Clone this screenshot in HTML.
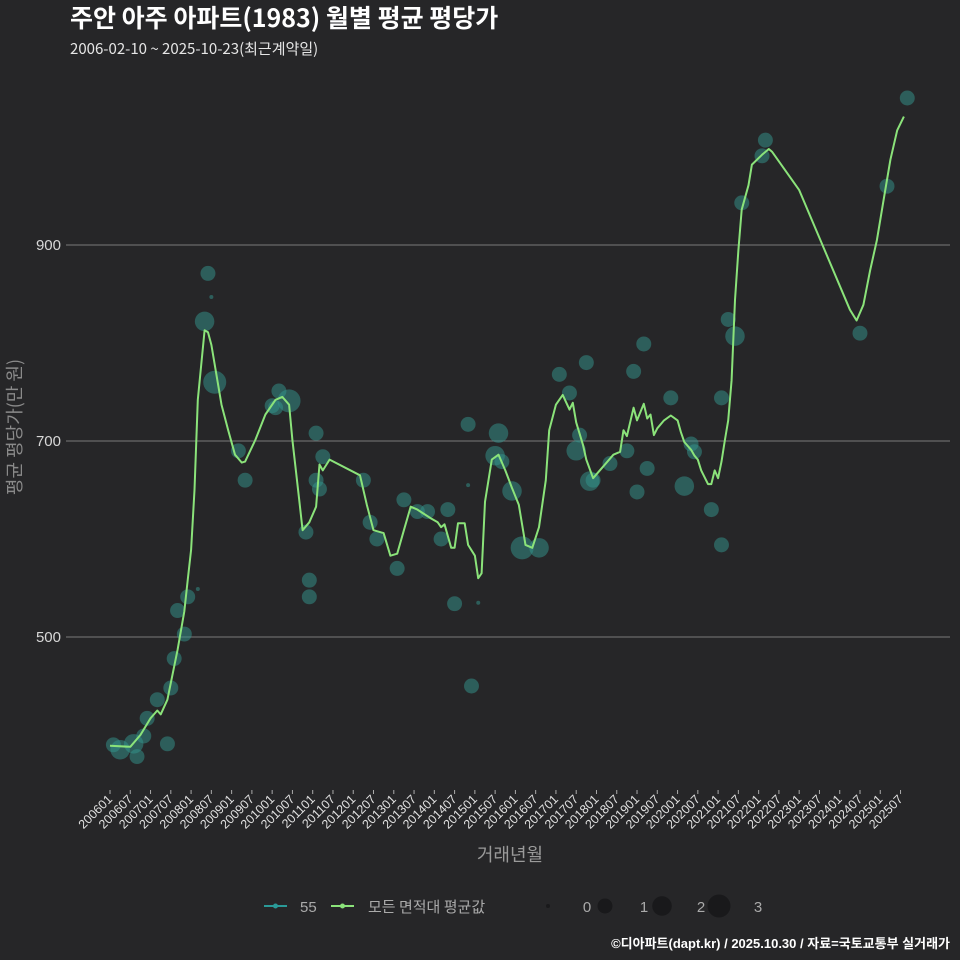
<!DOCTYPE html>
<html><head><meta charset="utf-8">
<style>
html,body{margin:0;padding:0;background:#262628;}
svg{display:block;font-family:"Liberation Sans","Noto Sans CJK KR",sans-serif;}
</style></head>
<body>
<svg id="chart" width="960" height="960" viewBox="0 0 960 960" xmlns="http://www.w3.org/2000/svg">
<rect width="960" height="960" fill="#262628"/>
<text x="70" y="27" fill="#ffffff" font-size="25" font-weight="bold" font-family="Noto Sans CJK KR, sans-serif">주안 아주 아파트(1983) 월별 평균 평당가</text>
<text x="70" y="54" fill="#e6e6e6" font-size="15" font-family="Noto Sans CJK KR, sans-serif">2006-02-10 ~ 2025-10-23(최근계약일)</text>
<g id="grid"></g>
<g id="yticks"></g>
<g id="xticks"></g>
<g id="bubbles"></g>
<g id="line"></g>
<text x="16" y="427" transform="rotate(-90 16 427)" text-anchor="middle" dominant-baseline="middle" fill="#8a8a8a" font-size="18" font-family="Noto Sans CJK KR, sans-serif">평균 평당가(만 원)</text>
<text x="510" y="861" text-anchor="middle" fill="#9a9a9a" font-size="18" font-family="Noto Sans CJK KR, sans-serif">거래년월</text>
<g>
  <g>
    <line x1="264" y1="906" x2="287" y2="906" stroke="#2a9a98" stroke-width="2"/>
    <circle cx="275.5" cy="906" r="2.5" fill="#2a9a98"/>
    <text x="300" y="912" fill="#aaaaaa" font-size="15">55</text>
  </g>
  <g>
    <line x1="331" y1="906" x2="354" y2="906" stroke="#8be37a" stroke-width="2"/>
    <circle cx="342.5" cy="906" r="2.5" fill="#8be37a"/>
    <text x="368" y="912" fill="#aaaaaa" font-size="15" font-family="Noto Sans CJK KR, sans-serif">모든 면적대 평균값</text>
  </g>
  <g id="sizeLegend"></g>
</g>
<text x="950" y="948" text-anchor="end" fill="#ffffff" font-size="13" font-weight="bold">©디아파트(dapt.kr) / 2025.10.30 / 자료=국토교통부 실거래가</text>
</svg>
<script>
// ---- data ----
const yTicks = [500, 700, 900];
const xTickLabels = ["200601","200607","200701","200707","200801","200807","200901","200907","201001","201007","201101","201107","201201","201207","201301","201307","201401","201407","201501","201507","201601","201607","201701","201707","201801","201807","201901","201907","202001","202007","202101","202107","202201","202207","202301","202307","202401","202407","202501","202507"];
const lineMonths = ["200601","200607","200610","200701","200703","200704","200706","200709","200711","200712","200801","200802","200803","200805","200806","200807","200810","200812","200902","200904","200905","200908","200911","201002","201004","201006","201007","201009","201010","201012","201102","201103","201104","201106","201203","201205","201207","201210","201212","201302","201304","201306","201308","201312","201402","201403","201404","201406","201407","201408","201410","201411","201501","201502","201503","201504","201506","201508","201510","201512","201602","201604","201606","201608","201610","201611","201701","201703","201705","201706","201707","201709","201710","201712","201806","201808","201809","201810","201812","201901","201903","201904","201905","201906","201907","201909","201911","202001","202002","202003","202005","202006","202007","202008","202010","202011","202012","202101","202102","202103","202104","202105","202106","202107","202108","202110","202111","202202","202204","202205","202301","202404","202406","202408","202410","202412","202502","202504","202506","202508"];
const lineValues = [389,388,400,417,425,421,436,487,526,558,589,650,742,813,811,798,737,711,686,678,679,701,727,742,745,737,701,640,609,617,633,676,670,681,665,635,609,606,583,585,609,633,630,621,617,612,615,591,591,616,616,594,583,560,565,638,681,686,670,652,635,594,591,612,660,711,737,747,732,739,719,696,681,662,686,689,711,705,734,721,738,723,727,706,713,721,726,721,709,699,691,685,681,670,656,656,670,662,679,701,721,762,844,895,936,961,982,992,998,995,956,834,823,839,874,905,946,987,1017,1031];
const bubbleMonths = ["200602","200604","200608","200609","200612","200611","200703","200706","200707","200708","200709","200711","200712","200803","200806","200805","200808","200807","200903","200905","201003","201002","201001","201006","201102","201011","201012","201012","201104","201102","201103","201204","201208","201206","201302","201304","201308","201311","201403","201405","201407","201411","201411","201502","201412","201508","201507","201509","201512","201603","201608","201702","201705","201710","201708","201707","201711","201712","201805","201810","201812","201903","201901","201904","201911","202003","202005","202006","202011","202102","202102","202104","202106","202108","202202","202203","202407","202503","202509"];
const bubbleValues = [390,385,391,378,417,399,436,391,448,478,527,503,541,549,871,822,760,847,690,660,751,734,736,741,708,607,558,541,684,660,651,660,600,617,570,640,628,628,600,630,534,717,655,535,450,708,685,679,649,591,591,768,749,780,706,690,659,660,677,690,771,799,648,672,744,654,697,689,630,594,744,824,807,943,991,1007,810,960,1050];
const bubbleCounts = [1,2,2,1,1,1,1,1,1,1,1,1,1,0,1,2,3,0,1,1,1,1,1,3,1,1,1,1,1,1,1,1,1,1,1,1,1,1,1,1,1,1,0,0,1,2,2,1,2,3,2,1,1,1,1,2,2,1,1,1,1,1,1,1,1,2,1,1,1,1,1,1,2,1,1,1,1,1,1];
const sizeLegendValues = [0,1,2,3];

// ---- scales ----
const NS = "http://www.w3.org/2000/svg";
function monthIndex(s){return (parseInt(s.slice(0,4))-2006)*12 + parseInt(s.slice(4,6))-1;}
function xScale(s){return 110 + monthIndex(s)*20.27/6;}
function yScale(v){return 637 - (v-500)*0.98;}
function rScale(c){return 2 + 9.5*Math.sqrt(c/3);}
function mk(tag, attrs, parent){const e=document.createElementNS(NS,tag);for(const k in attrs)e.setAttribute(k,attrs[k]);parent.appendChild(e);return e;}

const grid=document.getElementById('grid'), yt=document.getElementById('yticks');
yTicks.forEach(v=>{
  const l=mk('line',{x1:66,x2:950,y1:yScale(v),y2:yScale(v),stroke:'#7a7a7a','stroke-width':1},grid);
  
  
  const t=mk('text',{x:61,y:yScale(v)+5,'text-anchor':'end',fill:'#d8d8d8','font-size':15},yt);
  t.textContent=v;
  
  
});
const xt=document.getElementById('xticks');
xTickLabels.forEach(s=>{
  const x=xScale(s);
  const tk=mk('line',{x1:x,x2:x,y1:790,y2:794,stroke:'#aaa','stroke-width':1},xt);
  
  
  const t=mk('text',{x:x+3,y:800,'text-anchor':'end',fill:'#e0e0e0','font-size':12.5,transform:`rotate(-45 ${x+3} 800)`},xt);
  t.textContent=s;
  
  
});
const bg=document.getElementById('bubbles');
bubbleMonths.forEach((m,i)=>{
  const c=mk('circle',{cx:xScale(m),cy:yScale(bubbleValues[i]),r:rScale(bubbleCounts[i]),fill:'#33958e','fill-opacity':0.5},bg);
  
  
});
const pts=lineMonths.map((m,i)=>xScale(m).toFixed(1)+','+yScale(lineValues[i]).toFixed(1)).join(' ');
const pl=mk('polyline',{points:pts,fill:'none',stroke:'#8be37a','stroke-width':2,'stroke-linejoin':'round'},document.getElementById('line'));


const sl=document.getElementById('sizeLegend');
sizeLegendValues.forEach((v,i)=>{
  const cx=548+i*57;
  const c=mk('circle',{cx:cx,cy:906,r:rScale(v),fill:'#19191b'},sl);
  
  
  const t=mk('text',{x:cx+39,y:912,'text-anchor':'middle',fill:'#aaaaaa','font-size':15},sl);
  t.textContent=v;
  
  
});
</script>
</body></html>
